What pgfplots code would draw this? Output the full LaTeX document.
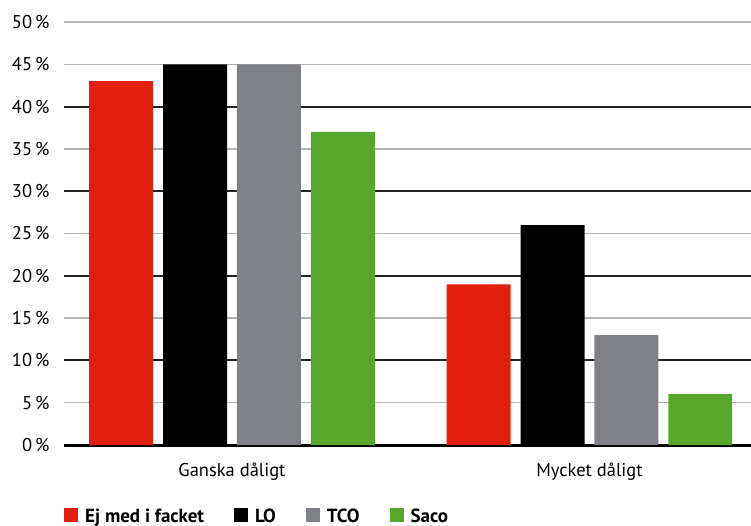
\documentclass[border=0pt]{standalone}
\usepackage{pgfplots}
\pgfplotsset{compat=1.18}
\usepackage{fontspec}
\setmainfont{PT Sans}
\definecolor{cRed}{RGB}{226,30,12}
\definecolor{cGray}{RGB}{128,128,137}
\definecolor{cGreen}{RGB}{88,166,42}
\definecolor{gridLight}{RGB}{180,180,180}
\definecolor{gridDark}{RGB}{35,35,35}
\pgfplotsset{
  sq/.style={legend image code/.code={\fill[##1,draw=none] (0pt,-6pt) rectangle (14pt,8pt);}},
  lightline/.style={sharp plot, forget plot, draw=gridLight, line width=1.3pt},
  darkline/.style={sharp plot, forget plot, draw=gridDark, line width=2pt},
}
\begin{document}
\begin{tikzpicture}
\path[use as bounding box] (0,0) rectangle (751pt,-526pt);
\begin{axis}[
  scale only axis, width=687pt, height=423pt,
  at={(64pt,-445pt)}, anchor=south west,
  xmin=-0.47, xmax=1.452, ymin=0, ymax=50,
  ybar, bar width=0.179,
  font=\fontsize{18.5pt}{21pt}\selectfont,
  axis lines=left, axis line style={-},
  y axis line style={draw=none},
  x axis line style={line width=3pt},
  major tick length=0pt,
  xtick={0,1}, xticklabels={Ganska dåligt, Mycket dåligt},
  xticklabel style={yshift=-14pt},
  ytick={0,5,...,50},
  yticklabel={\pgfmathprintnumber[assume math mode=true]{\tick}\,\%},
  yticklabel style={xshift=-11pt},
  legend columns=4,
  legend style={draw=none, fill=none, at={(0,-0.168)}, anchor=west, inner sep=0pt,
    font=\fontsize{19pt}{21pt}\selectfont\bfseries,
    /tikz/every odd column/.append style={column sep=5pt},
    /tikz/every even column/.append style={column sep=28pt}},
]
% grid: light at 5, 15, ..., 45, 50; dark at 10, 20, 30, 40
\addplot[lightline] coordinates {(-0.47,5) (1.452,5)};
\addplot[lightline] coordinates {(-0.47,15) (1.452,15)};
\addplot[lightline] coordinates {(-0.47,25) (1.452,25)};
\addplot[lightline] coordinates {(-0.47,35) (1.452,35)};
\addplot[lightline] coordinates {(-0.47,45) (1.452,45)};
\addplot[lightline] coordinates {(-0.47,50) (1.452,50)};
\addplot[darkline] coordinates {(-0.47,10) (1.452,10)};
\addplot[darkline] coordinates {(-0.47,20) (1.452,20)};
\addplot[darkline] coordinates {(-0.47,30) (1.452,30)};
\addplot[darkline] coordinates {(-0.47,40) (1.452,40)};
\addplot[sq, fill=cRed, draw=none, bar shift=-0.31] coordinates {(0,43) (1,19)};
\addplot[sq, fill=black, draw=none, bar shift=-0.103] coordinates {(0,45) (1,26)};
\addplot[sq, fill=cGray, draw=none, bar shift=0.103] coordinates {(0,45) (1,13)};
\addplot[sq, fill=cGreen, draw=none, bar shift=0.31] coordinates {(0,37) (1,6)};
\legend{Ej med i facket, LO, TCO, Saco}
\end{axis}
\end{tikzpicture}
\end{document}
